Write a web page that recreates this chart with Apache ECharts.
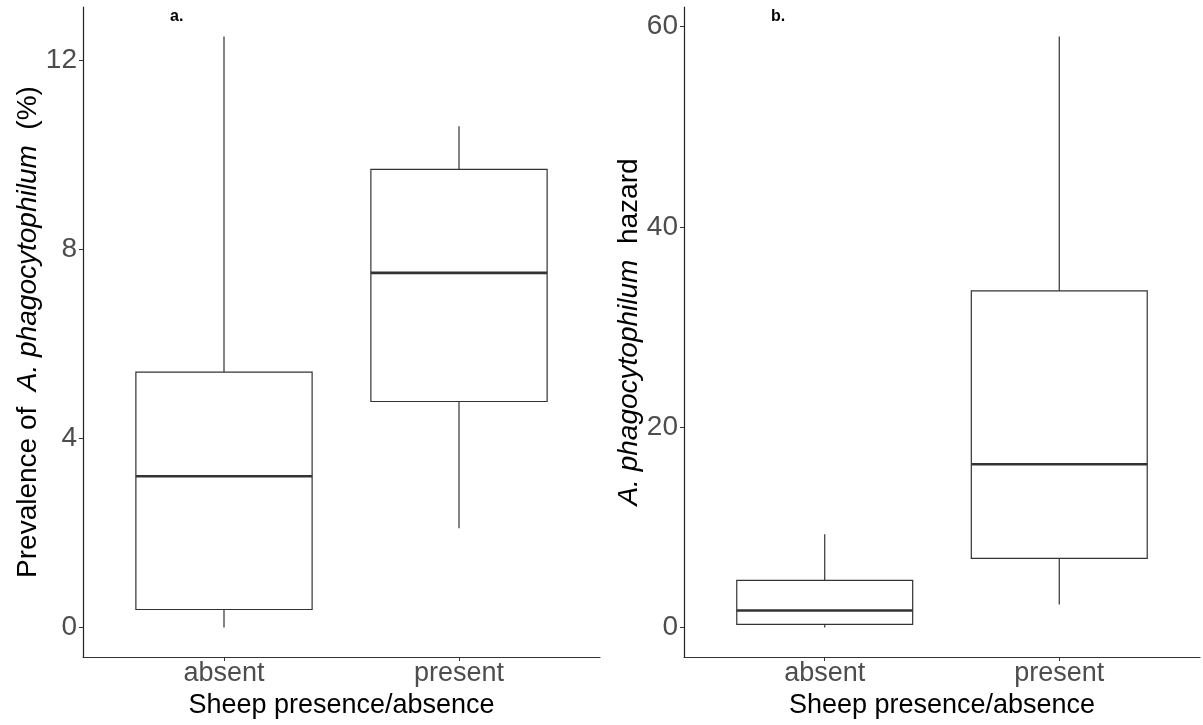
<!DOCTYPE html>
<html>
<head>
<meta charset="utf-8">
<script src="https://cdn.jsdelivr.net/npm/echarts@6/dist/echarts.min.js"></script>
<style>
  html, body { margin: 0; padding: 0; background: #fff; }
  #chart { width: 1203px; height: 725px; }
</style>
</head>
<body>
<div id="chart"></div>
<script>
// categories and box stats [min, q1, median, q3, max]
var categories = ['absent', 'present'];
var prevAbsent = [0, 0.38, 3.2, 5.4, 12.5];
var prevPresent = [2.1, 4.78, 7.5, 9.69, 10.6];
var hazAbsent = [0, 0.3, 1.7, 4.7, 9.3];
var hazPresent = [2.3, 6.9, 16.3, 33.6, 59.0];
var prevTicks = [0, 4, 8, 12];
var hazTicks = [0, 20, 40, 60];

var chart = echarts.init(document.getElementById('chart'));

// box drawn like ggplot geom_boxplot
function renderBox(params, api) {
    var x = api.value(0);
    var lo = api.coord([x, api.value(1)]);
    var q1 = api.coord([x, api.value(2)]);
    var med = api.coord([x, api.value(3)]);
    var q3 = api.coord([x, api.value(4)]);
    var hi = api.coord([x, api.value(5)]);
    var half = api.size([0.75, 0])[0] / 2;
    var line = { stroke: '#333333', lineWidth: 1.2 };
    return {
        type: 'group',
        children: [
            { type: 'line', shape: { x1: lo[0], y1: lo[1], x2: q1[0], y2: q1[1] }, style: line },
            { type: 'line', shape: { x1: q3[0], y1: q3[1], x2: hi[0], y2: hi[1] }, style: line },
            { type: 'rect', shape: { x: q3[0] - half, y: q3[1], width: half * 2, height: q1[1] - q3[1] },
              style: { fill: '#ffffff', stroke: '#333333', lineWidth: 1.2 } },
            { type: 'line', shape: { x1: med[0] - half, y1: med[1], x2: med[0] + half, y2: med[1] },
              style: { stroke: '#333333', lineWidth: 2.6 } }
        ]
    };
}

function boxData(list) {
    return list.map(function (s, i) { return [i + 1].concat(s); });
}

function xAxisOf(idx) {
    return {
        type: 'value',
        gridIndex: idx,
        min: 0.4,
        max: 2.6,
        name: 'Sheep presence/absence',
        nameLocation: 'middle',
        nameGap: 30,
        nameTextStyle: { fontSize: 27, color: '#000' },
        splitLine: { show: false },
        axisLine: { onZero: false, lineStyle: { color: '#333333', width: 1.2 } },
        axisTick: { customValues: [1, 2], length: 4, lineStyle: { color: '#333333' } },
        axisLabel: {
            customValues: [1, 2],
            fontSize: 27,
            color: '#4D4D4D',
            margin: 3,
            formatter: function (v) { return categories[Math.round(v) - 1]; }
        }
    };
}

function yAxisOf(idx, min, max, ticks, name, gap) {
    return {
        type: 'value',
        gridIndex: idx,
        min: min,
        max: max,
        name: name,
        nameLocation: 'middle',
        nameGap: gap,
        nameTextStyle: {
            fontSize: 28, color: '#000',
            rich: { i: { fontSize: 28, color: '#000', fontStyle: 'italic' } }
        },
        splitLine: { show: false },
        axisLine: { show: true, onZero: false, lineStyle: { color: '#222222', width: 1.2 } },
        axisTick: { show: true, customValues: ticks, length: 4, lineStyle: { color: '#333333' } },
        axisLabel: { customValues: ticks, fontSize: 28, color: '#4D4D4D', margin: 6 }
    };
}

var option = {
    animation: false,
    backgroundColor: '#ffffff',
    textStyle: { fontFamily: 'Liberation Sans, Arial, sans-serif' },
    title: [
        { text: 'a.', left: 165, top: 4, textStyle: { fontSize: 16, fontWeight: 'bold', color: '#000' } },
        { text: 'b.', left: 766, top: 4, textStyle: { fontSize: 16, fontWeight: 'bold', color: '#000' } }
    ],
    grid: [
        { left: 83, top: 7, width: 517, height: 650 },
        { left: 684, top: 7, width: 516, height: 650 }
    ],
    xAxis: [xAxisOf(0), xAxisOf(1)],
    yAxis: [
        yAxisOf(0, -0.625, 13.125, prevTicks, 'Prevalence of  {i|A. phagocytophilum}  (%)', 39),
        yAxisOf(1, -2.95, 61.95, hazTicks, '{i|A. phagocytophilum}  hazard', 39)
    ],
    series: [
        {
            type: 'custom',
            xAxisIndex: 0,
            yAxisIndex: 0,
            renderItem: renderBox,
            encode: { x: 0, y: [1, 2, 3, 4, 5] },
            data: boxData([prevAbsent, prevPresent])
        },
        {
            type: 'custom',
            xAxisIndex: 1,
            yAxisIndex: 1,
            renderItem: renderBox,
            encode: { x: 0, y: [1, 2, 3, 4, 5] },
            data: boxData([hazAbsent, hazPresent])
        }
    ]
};

chart.setOption(option);
</script>
</body>
</html>
